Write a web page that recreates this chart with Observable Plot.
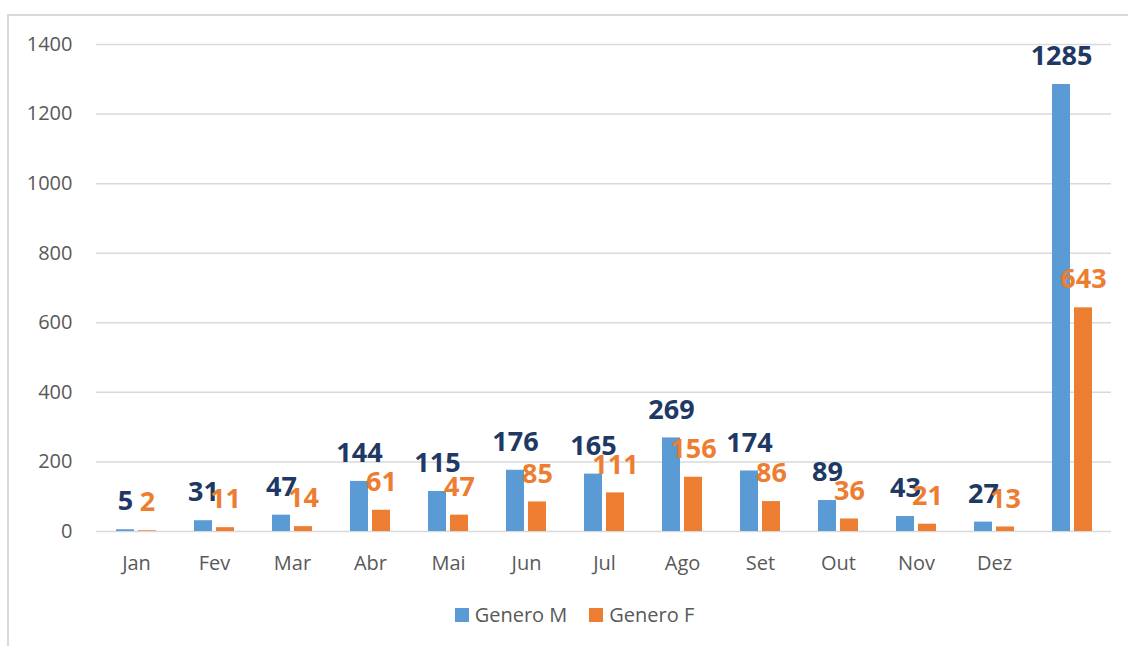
<!DOCTYPE html>
<html>
<head>
<meta charset="utf-8">
<script src="https://cdn.jsdelivr.net/npm/d3@7"></script>
<script src="https://cdn.jsdelivr.net/npm/@observablehq/plot@0.6"></script>
<style>
  html, body { margin: 0; padding: 0; background: #fff; }
  #wrap { position: relative; width: 1128px; height: 646px; overflow: hidden; font-family: "Open Sans", sans-serif; }
  #frame { position: absolute; left: 7px; top: 14px; width: 1130px; height: 700px; border-left: 2px solid #D9D9D9; border-top: 2px solid #D9D9D9; box-sizing: border-box; }
  #chart { position: absolute; left: 0; top: 0; }
  #legend { position: absolute; top: 601px; left: 0; width: 1128px; display: flex; justify-content: center; font-size: 20px; color: #595959; padding-left: 21px; box-sizing: border-box; }
  .item { display: flex; align-items: center; margin: 0 11px; }
  .sw { width: 14px; height: 14px; margin-right: 6px; }
</style>
</head>
<body>
<div id="wrap">
  <div id="frame"></div>
  <div id="chart"></div>
  <div id="legend">
    <div class="item"><div class="sw" style="background:#5B9BD5"></div><span>Genero M</span></div>
    <div class="item"><div class="sw" style="background:#ED7D31"></div><span>Genero F</span></div>
  </div>
</div>
<script>
const categories = ["Jan", "Fev", "Mar", "Abr", "Mai", "Jun", "Jul", "Ago", "Set", "Out", "Nov", "Dez", "Total"];
const generoM = [5, 31, 47, 144, 115, 176, 165, 269, 174, 89, 43, 27, 1285];
const generoF = [2, 11, 14, 61, 47, 85, 111, 156, 86, 36, 21, 13, 643];
const yTicks = [0, 200, 400, 600, 800, 1000, 1200, 1400];

const data = categories.map((c, i) => ({cat: c, m: generoM[i], f: generoF[i]}));

const chart = Plot.plot({
  width: 1128,
  height: 590,
  marginLeft: 96,
  marginRight: 17,
  marginTop: 44,
  marginBottom: 59,
  style: {fontFamily: "Open Sans, sans-serif", background: "transparent", overflow: "visible"},
  x: {domain: categories, paddingInner: 0.77, paddingOuter: 0.385, label: null},
  y: {domain: [0, 1400], label: null},
  marks: [
    Plot.ruleY(yTicks, {stroke: "#D9D9D9", strokeWidth: 1.5}),
    Plot.axisY({ticks: yTicks, tickFormat: d => String(d), tickSize: 0, tickPadding: 24, fontSize: 20, fill: "#595959", label: null}),
    Plot.axisX({tickSize: 0, tickPadding: 24, fontSize: 20, fill: "#595959", label: null,
      tickFormat: d => d === "Total" ? "" : d}),
    Plot.barY(data, {x: "cat", y: "m", fill: "#5B9BD5", dx: -11}),
    Plot.barY(data, {x: "cat", y: "f", fill: "#ED7D31", dx: 11}),
    Plot.text(data, {x: "cat", y: "m", text: d => String(d.m), dx: -11, dy: -28, fill: "#203864", fontSize: 27, fontWeight: "bold"}),
    Plot.text(data, {x: "cat", y: "f", text: d => String(d.f), dx: 11, dy: -28, fill: "#ED7D31", fontSize: 27, fontWeight: "bold"})
  ]
});
document.getElementById("chart").appendChild(chart);
</script>
</body>
</html>
